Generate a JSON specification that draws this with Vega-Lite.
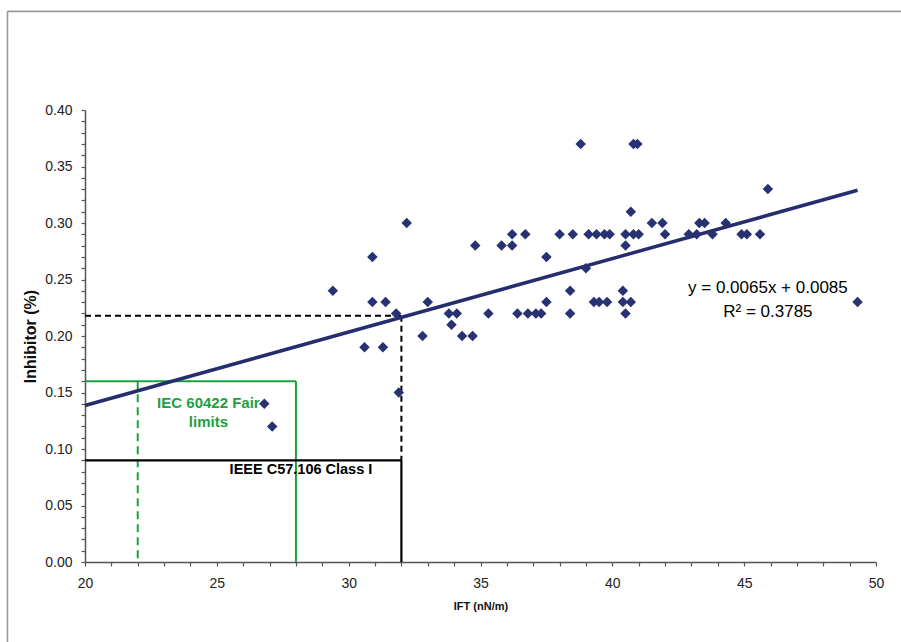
{
  "$schema": "https://vega.github.io/schema/vega-lite/v6.json",
  "width": 791,
  "height": 452,
  "autosize": {"type": "none"},
  "padding": {"left": 85, "top": 110, "right": 25, "bottom": 80},
  "background": "white",
  "config": {
    "view": {"stroke": null},
    "font": "Liberation Sans",
    "axis": {"grid": false, "domainColor": "#555555", "tickColor": "#555555", "domainWidth": 1.5, "tickWidth": 1.2, "labelFont": "Liberation Sans", "titleFont": "Liberation Sans", "labelColor": "#222222", "titleColor": "#111111"}
  },
  "datasets": {
    "pts": [
      {"ift": 29.4, "inh": 0.24}, {"ift": 30.9, "inh": 0.27}, {"ift": 30.9, "inh": 0.23}, {"ift": 31.4, "inh": 0.23},
      {"ift": 32.2, "inh": 0.30}, {"ift": 31.8, "inh": 0.22}, {"ift": 30.6, "inh": 0.19}, {"ift": 31.3, "inh": 0.19},
      {"ift": 31.9, "inh": 0.15}, {"ift": 26.8, "inh": 0.14}, {"ift": 27.1, "inh": 0.12}, {"ift": 33.0, "inh": 0.23},
      {"ift": 32.8, "inh": 0.20}, {"ift": 38.8, "inh": 0.37}, {"ift": 40.8, "inh": 0.37}, {"ift": 40.95, "inh": 0.37},
      {"ift": 40.7, "inh": 0.31}, {"ift": 41.5, "inh": 0.30}, {"ift": 41.9, "inh": 0.30}, {"ift": 34.8, "inh": 0.28},
      {"ift": 35.8, "inh": 0.28}, {"ift": 36.2, "inh": 0.28}, {"ift": 36.2, "inh": 0.29}, {"ift": 36.7, "inh": 0.29},
      {"ift": 38.0, "inh": 0.29}, {"ift": 38.5, "inh": 0.29}, {"ift": 39.1, "inh": 0.29}, {"ift": 39.4, "inh": 0.29},
      {"ift": 39.7, "inh": 0.29}, {"ift": 39.9, "inh": 0.29}, {"ift": 40.5, "inh": 0.29}, {"ift": 40.8, "inh": 0.29},
      {"ift": 41.0, "inh": 0.29}, {"ift": 40.5, "inh": 0.28}, {"ift": 37.5, "inh": 0.27}, {"ift": 39.0, "inh": 0.26},
      {"ift": 38.4, "inh": 0.24}, {"ift": 40.4, "inh": 0.24}, {"ift": 37.5, "inh": 0.23}, {"ift": 39.3, "inh": 0.23},
      {"ift": 39.5, "inh": 0.23}, {"ift": 39.8, "inh": 0.23}, {"ift": 40.4, "inh": 0.23}, {"ift": 40.7, "inh": 0.23},
      {"ift": 33.8, "inh": 0.22}, {"ift": 34.1, "inh": 0.22}, {"ift": 35.3, "inh": 0.22}, {"ift": 36.4, "inh": 0.22},
      {"ift": 36.8, "inh": 0.22}, {"ift": 37.1, "inh": 0.22}, {"ift": 37.3, "inh": 0.22}, {"ift": 38.4, "inh": 0.22},
      {"ift": 40.5, "inh": 0.22}, {"ift": 33.9, "inh": 0.21}, {"ift": 34.3, "inh": 0.20}, {"ift": 34.7, "inh": 0.20},
      {"ift": 42.0, "inh": 0.29}, {"ift": 42.9, "inh": 0.29}, {"ift": 43.2, "inh": 0.29}, {"ift": 43.3, "inh": 0.30},
      {"ift": 43.5, "inh": 0.30}, {"ift": 43.8, "inh": 0.29}, {"ift": 44.3, "inh": 0.30}, {"ift": 44.9, "inh": 0.29},
      {"ift": 45.1, "inh": 0.29}, {"ift": 45.6, "inh": 0.29}, {"ift": 45.9, "inh": 0.33}, {"ift": 49.3, "inh": 0.23}
    ],
    "trend": [{"ift": 20, "inh": 0.1385}, {"ift": 49.3, "inh": 0.32895}],
    "blackDashed": [{"ift": 20, "inh": 0.218, "ift2": 32, "inh2": 0.218}, {"ift": 32, "inh": 0.218, "ift2": 32, "inh2": 0.09}],
    "blackSolid": [{"ift": 20, "inh": 0.09, "ift2": 32, "inh2": 0.09}, {"ift": 32, "inh": 0.09, "ift2": 32, "inh2": 0}],
    "greenSolid": [{"ift": 20, "inh": 0.16, "ift2": 28, "inh2": 0.16}, {"ift": 28, "inh": 0.16, "ift2": 28, "inh2": 0}],
    "greenDashed": [{"ift": 22, "inh": 0.16, "ift2": 22, "inh2": 0}],
    "frame": [{"ift": 17.06, "inh": 0.4873, "ift2": 17.06, "inh2": -0.08}, {"ift": 17.06, "inh": 0.4873, "ift2": 51.2, "inh2": 0.4873}],
    "labels": [
      {"ift": 24.68, "inh": 0.1407, "txt": "IEC 60422 Fair", "grp": "green"},
      {"ift": 24.68, "inh": 0.1239, "txt": "limits", "grp": "green"},
      {"ift": 28.19, "inh": 0.0814, "txt": "IEEE C57.106 Class I", "grp": "black"},
      {"ift": 45.9, "inh": 0.2425, "txt": "y = 0.0065x + 0.0085", "grp": "eq"},
      {"ift": 45.9, "inh": 0.2215, "txt": "R² = 0.3785", "grp": "eq"}
    ]
  },
  "encoding": {
    "x": {
      "field": "ift", "type": "quantitative", "title": "IFT (nN/m)",
      "scale": {"domain": [20, 50], "nice": false, "zero": false},
      "axis": {
        "values": [20,21,22,23,24,25,26,27,28,29,30,31,32,33,34,35,36,37,38,39,40,41,42,43,44,45,46,47,48,49,50],
        "labelExpr": "datum.value % 5 == 0 ? format(datum.value, 'd') : ''",
        "tickSize": 4,
        "labelFontSize": 14, "labelPadding": 10, "labelFlush": false, "labelOverlap": false,
        "titleFontSize": 11, "titleFontWeight": "bold", "titlePadding": 10
      }
    },
    "y": {
      "field": "inh", "type": "quantitative", "title": "Inhibitor (%)",
      "scale": {"domain": [0, 0.4], "nice": false, "zero": false},
      "axis": {
        "values": [0,0.01,0.02,0.03,0.04,0.05,0.06,0.07,0.08,0.09,0.1,0.11,0.12,0.13,0.14,0.15,0.16,0.17,0.18,0.19,0.2,0.21,0.22,0.23,0.24,0.25,0.26,0.27,0.28,0.29,0.3,0.31,0.32,0.33,0.34,0.35,0.36,0.37,0.38,0.39,0.4],
        "labelExpr": "abs(round(datum.value*20) - datum.value*20) < 1e-6 ? format(datum.value, '.2f') : ''",
        "tickSize": 4,
        "labelFontSize": 14, "labelPadding": 9, "labelFlush": false, "labelOverlap": false,
        "titleFontSize": 16, "titleFontWeight": "bold", "titlePadding": 6
      }
    }
  },
  "layer": [
    {
      "data": {"name": "frame"},
      "mark": {"type": "rule", "color": "#9a9a9a", "strokeWidth": 1.6, "clip": false},
      "encoding": {"x2": {"field": "ift2"}, "y2": {"field": "inh2"}}
    },
    {
      "data": {"name": "greenSolid"},
      "mark": {"type": "rule", "color": "#1FA03F", "strokeWidth": 2},
      "encoding": {"x2": {"field": "ift2"}, "y2": {"field": "inh2"}}
    },
    {
      "data": {"name": "greenDashed"},
      "mark": {"type": "rule", "color": "#1FA03F", "strokeWidth": 2, "strokeDash": [8, 5]},
      "encoding": {"x2": {"field": "ift2"}, "y2": {"field": "inh2"}}
    },
    {
      "data": {"name": "blackSolid"},
      "mark": {"type": "rule", "color": "#000000", "strokeWidth": 2.2},
      "encoding": {"x2": {"field": "ift2"}, "y2": {"field": "inh2"}}
    },
    {
      "data": {"name": "blackDashed"},
      "mark": {"type": "rule", "color": "#000000", "strokeWidth": 2, "strokeDash": [6, 4]},
      "encoding": {"x2": {"field": "ift2"}, "y2": {"field": "inh2"}}
    },
    {
      "data": {"name": "trend"},
      "mark": {"type": "line", "color": "#262D6E", "strokeWidth": 3.5},
      "encoding": {}
    },
    {
      "data": {"name": "pts"},
      "mark": {"type": "point", "shape": "diamond", "filled": true, "size": 110, "color": "#283272", "opacity": 1}
    },
    {
      "data": {"name": "labels"},
      "transform": [{"filter": "datum.grp == 'green'"}],
      "mark": {"type": "text", "color": "#1FA03F", "fontSize": 15, "fontWeight": "bold", "align": "center", "baseline": "middle"},
      "encoding": {"text": {"field": "txt"}}
    },
    {
      "data": {"name": "labels"},
      "transform": [{"filter": "datum.grp == 'black'"}],
      "mark": {"type": "text", "color": "#000000", "fontSize": 14.5, "fontWeight": "bold", "align": "center", "baseline": "middle"},
      "encoding": {"text": {"field": "txt"}}
    },
    {
      "data": {"name": "labels"},
      "transform": [{"filter": "datum.grp == 'eq'"}],
      "mark": {"type": "text", "color": "#000000", "fontSize": 17, "align": "center", "baseline": "middle"},
      "encoding": {"text": {"field": "txt"}}
    }
  ]
}
